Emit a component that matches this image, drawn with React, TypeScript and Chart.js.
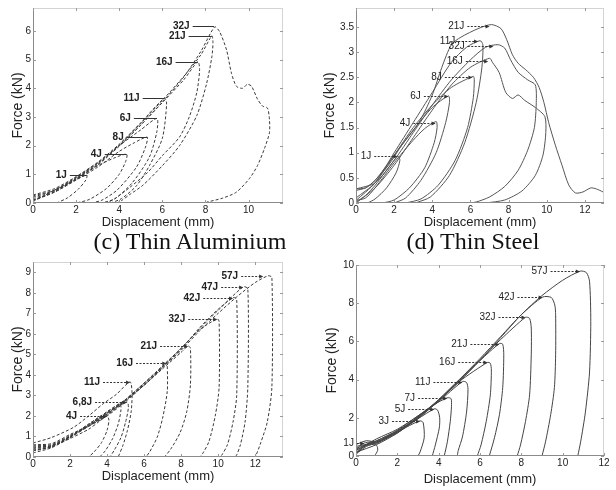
import React, { useEffect, useRef } from 'react';
import { Chart, registerables } from 'chart.js';
Chart.register(...registerables);

type Pt = [number, number];

// ---------------- (c) Thin Aluminium (top-left) ----------------
const cXTicks = [0, 2, 4, 6, 8, 10];
const cYTicks = [0, 1, 2, 3, 4, 5, 6];
const c1J: Pt[] = [[0,0.05],[0.5,0.25],[1,0.45],[1.5,0.62],[2,0.82],[2.5,0.97],[2.45,0.8],[2.1,0.48],[1.6,0.18],[1.1,0]];
const c4J: Pt[] = [[0,0.15],[0.5,0.28],[1,0.42],[2,0.85],[3,1.3],[3.8,1.58],[4.35,1.7],[4.3,1.45],[4.0,1.0],[3.4,0.5],[2.6,0.12],[2.0,0]];
const c8J: Pt[] = [[0,0.1],[1,0.38],[2,0.8],[3,1.25],[4,1.8],[4.7,2.1],[5.3,2.3],[5.22,1.95],[4.8,1.25],[3.9,0.45],[3.2,0.1],[2.7,0]];
const c6J: Pt[] = [[0,0.2],[1,0.45],[2,0.9],[3,1.4],[4,2.0],[5,2.55],[5.75,2.95],[5.75,2.5],[5.4,1.6],[4.6,0.7],[3.8,0.15],[3.2,0]];
const c11J: Pt[] = [[0,0.28],[1,0.5],[2,0.92],[3,1.42],[4,2.05],[5,2.8],[6.1,3.66],[6.2,3.45],[6.0,2.25],[5.4,1.3],[4.8,0.6],[4.1,0.15],[3.6,0]];
const c16J: Pt[] = [[0,0.1],[1,0.4],[2,0.85],[3,1.35],[4,2.0],[5,2.72],[6,3.5],[7,4.3],[7.65,4.93],[7.73,4.65],[7.6,3.85],[7.25,3.0],[6.8,2.3],[6.0,1.65],[5.3,1.05],[4.5,0.55],[3.8,0.15],[3.4,0]];
const c21J: Pt[] = [[0,0.25],[1,0.45],[2,0.88],[3,1.38],[4,2.02],[5,2.78],[6,3.58],[7,4.42],[7.8,5.18],[8.3,5.83],[8.35,5.6],[8.3,5.1],[8.05,4.15],[7.6,3.05],[6.8,2.0],[6.0,1.3],[5.1,0.62],[4.5,0.3],[4.1,0.08],[3.9,0]];
const c32J: Pt[] = [[0,0.08],[1,0.38],[2,0.82],[3,1.32],[4,1.98],[5,2.72],[6,3.52],[7,4.4],[7.8,5.3],[8.43,6.14],[8.66,5.97],[8.98,5.34],[9.21,4.52],[9.44,4.07],[9.72,4.0],[9.95,4.14],[10.14,4.07],[10.42,3.62],[10.65,3.38],[10.88,3.31],[10.97,2.93],[10.97,2.45],[10.74,1.9],[10.42,1.31],[10.05,0.86],[9.44,0.38],[8.8,0.17],[8.06,0.03]];
const cCurves = [c1J, c4J, c8J, c6J, c11J, c16J, c21J, c32J];
const cLabels = ['1J', '4J', '8J', '6J', '11J', '16J', '21J', '32J'];
const cTipX = [2.5, 4.35, 5.3, 5.75, 6.1, 7.65, 8.3, 8.4];
const cTipY = [0.97, 1.7, 2.3, 2.95, 3.66, 4.93, 5.83, 6.17];
const cTextX = [1.57, 3.19, 4.21, 4.54, 4.95, 6.48, 7.08, 7.27];

// ---------------- (d) Thin Steel (top-right) ----------------
const dXTicks = [0, 2, 4, 6, 8, 10, 12];
const dYTicks = [0, 0.5, 1, 1.5, 2, 2.5, 3, 3.5];
const d1J: Pt[] = [[0,0.02],[0.5,0.15],[1,0.35],[1.5,0.6],[2.2,0.93],[2.3,0.85],[2.1,0.6],[1.6,0.3],[1.0,0.08],[0.6,0]];
const d4J: Pt[] = [[0,0.05],[0.5,0.1],[1,0.3],[2,0.8],[3,1.25],[3.6,1.48],[4.2,1.62],[4.25,1.5],[4.1,1.2],[3.6,0.7],[2.8,0.3],[2.0,0.06],[1.4,0]];
const d6J: Pt[] = [[0,0.28],[0.5,0.3],[1,0.45],[2,0.95],[3,1.45],[4,1.9],[4.85,2.13],[4.9,2.0],[4.7,1.6],[4.2,1.0],[3.4,0.45],[2.6,0.1],[2.0,0]];
const d8J: Pt[] = [[0,0.1],[1,0.4],[2,0.95],[3,1.5],[4,1.95],[5,2.3],[6.15,2.52],[6.2,2.45],[6.15,2.1],[5.85,1.5],[5.2,0.85],[4.3,0.35],[3.4,0.08],[2.6,0]];
const d11J: Pt[] = [[0,0.05],[1,0.4],[2,1.0],[3,1.6],[4,2.2],[5,2.8],[5.8,3.1],[6.5,3.23],[6.65,3.15],[6.6,2.7],[6.3,2.0],[5.7,1.2],[4.9,0.55],[3.9,0.12],[3.1,0]];
const d16J: Pt[] = [[0,0],[1,0.3],[2,0.75],[3,1.3],[4,1.85],[5,2.35],[6,2.7],[7.0,2.88],[7.15,2.8],[7.5,2.6],[7.85,2.2],[8.2,2.08],[8.5,2.15],[8.85,2.04],[9.4,1.9],[9.9,1.72],[9.95,1.4],[9.8,0.95],[9.4,0.55],[8.7,0.24],[7.8,0.06],[6.8,0]];
const d32J: Pt[] = [[0,0.28],[1,0.4],[2,0.85],[3,1.4],[4,1.95],[5,2.45],[6,2.85],[6.8,3.1],[7.45,3.15],[7.8,3.08],[8.1,2.85],[8.5,2.6],[9.0,2.45],[9.4,2.35],[9.45,2.0],[9.35,1.5],[9.0,1.05],[8.5,0.65],[7.8,0.33],[7.0,0.12],[6.3,0.02],[5.9,0]];
const d21J: Pt[] = [[0,0.25],[0.5,0.3],[1,0.45],[1.7,0.75],[2.4,1.15],[3.3,1.6],[4.0,2.15],[4.5,2.7],[5.0,3.15],[5.5,3.3],[6.4,3.47],[7.1,3.55],[7.6,3.47],[7.9,3.25],[8.2,2.95],[8.5,2.78],[8.9,2.65],[9.3,2.5],[9.6,2.3],[9.85,2.0],[10.1,1.6],[10.45,1.15],[10.8,0.75],[11.15,0.36],[11.5,0.2],[11.9,0.22],[12.3,0.3],[12.6,0.28],[12.95,0.22]];
const dCurves = [d1J, d4J, d6J, d8J, d11J, d16J, d32J, d21J];
const dLabels = ['1J', '4J', '6J', '8J', '11J', '16J', '32J', '21J'];
const dTipX = [2.18, 4.17, 4.84, 6.1, 6.4, 6.93, 7.2, 7.0];
const dTipY = [0.93, 1.6, 2.12, 2.5, 3.23, 2.83, 3.13, 3.52];
const dTextX = [0.8, 2.85, 3.4, 4.5, 5.2, 5.6, 5.7, 5.68];

// ---------------- (e) bottom-left ----------------
const eXTicks = [0, 2, 4, 6, 8, 10, 12];
const eYTicks = [0, 1, 2, 3, 4, 5, 6, 7, 8, 9];
const e4J: Pt[] = [[0,0.3],[1,0.5],[2,0.9],[3,1.35],[3.6,1.75],[4.0,2.0],[4.1,1.8],[4.0,1.3],[3.7,0.7],[3.3,0.25],[3.0,0]];
const e6J: Pt[] = [[0,0.5],[1,0.55],[2,1.0],[3,1.6],[4,2.2],[4.7,2.6],[4.75,2.3],[4.6,1.6],[4.3,0.9],[3.9,0.3],[3.6,0]];
const e8J: Pt[] = [[0,0.2],[1,0.45],[2,0.95],[3,1.55],[4,2.15],[5.08,2.68],[5.15,2.4],[5.0,1.7],[4.75,0.95],[4.4,0.35],[4.15,0]];
const e11J: Pt[] = [[0,0.68],[1,0.95],[2.2,1.45],[3.0,2.0],[3.8,2.6],[4.5,3.05],[5.24,3.66],[5.35,3.1],[5.3,2.2],[5.1,1.3],[4.85,0.55],[4.6,0]];
const e16J: Pt[] = [[0,0.4],[1,0.55],[2,1.0],[3,1.6],[4,2.2],[5,2.8],[6,3.5],[6.6,4.0],[7.2,4.59],[7.25,4.45],[7.25,3.2],[7.0,1.9],[6.7,0.95],[6.3,0.25],[6.1,0]];
const e21J: Pt[] = [[0,0.3],[1,0.5],[2,0.95],[3,1.5],[4,2.15],[5,2.75],[6,3.5],[7,4.3],[8,5.1],[8.38,5.41],[8.5,5.3],[8.5,3.5],[8.3,2.2],[7.95,1.2],[7.45,0.4],[7.1,0]];
const e32J: Pt[] = [[0,0.35],[1,0.5],[2,1.0],[3,1.5],[4,2.1],[5,2.8],[6,3.6],[7,4.4],[8,5.3],[9,6.2],[9.95,6.73],[10.05,6.6],[10.05,3.4],[9.85,2.05],[9.5,0.75],[9.15,0.15],[9.0,0]];
const e42J: Pt[] = [[0,0.45],[1,0.55],[2,1.0],[3,1.5],[4,2.05],[5,2.75],[6,3.55],[7,4.4],[8,5.25],[9,6.3],[10,7.2],[10.8,7.76],[11.0,7.7],[11.0,3.0],[10.8,1.7],[10.5,0.6],[10.2,0.1],[10.1,0]];
const e47J: Pt[] = [[0,0.55],[1,0.6],[2,1.05],[3,1.55],[4,2.1],[5,2.8],[6,3.6],[7,4.45],[8,5.3],[9,6.25],[10,7.15],[11.35,8.29],[11.6,8.2],[11.6,3.4],[11.45,1.7],[11.2,0.6],[11.0,0.1],[10.9,0]];
const e57J: Pt[] = [[0,0.6],[1,0.65],[2,1.1],[3,1.5],[4,2.0],[5,2.7],[6,3.5],[7,4.35],[8,5.2],[9,6.15],[10,7.0],[11,7.8],[12,8.5],[12.7,8.83],[12.9,8.75],[12.9,3.4],[12.65,1.7],[12.3,0.7],[12.05,0.1],[11.95,0]];
const eCurves = [e4J, e6J, e8J, e11J, e16J, e21J, e32J, e42J, e47J, e57J];
const eLabels = ['4J', '6,8J', '11J', '16J', '21J', '32J', '42J', '47J', '57J'];
const eTipX = [4.0, 5.08, 5.24, 7.2, 8.38, 9.95, 10.8, 11.35, 12.43];
const eTipY = [2.0, 2.68, 3.66, 4.59, 5.41, 6.73, 7.76, 8.29, 8.83];
const eTextX = [2.38, 3.19, 3.62, 5.4, 6.7, 8.22, 9.03, 10.0, 11.08];

// ---------------- (f) bottom-right ----------------
const fXTicks = [0, 2, 4, 6, 8, 10, 12];
const fYTicks = [0, 2, 4, 6, 8, 10];
const f1J: Pt[] = [[0,0.3],[0.2,0.55],[0.4,0.68],[0.7,0.72],[1.0,0.55],[1.05,0.3],[0.9,0]];
const f3J: Pt[] = [[0,0.6],[0.5,0.8],[1,0.75],[2,1.25],[2.6,1.6],[3.1,1.84],[3.25,1.75],[3.3,0.95],[3.1,0.21],[3.0,0]];
const f5J: Pt[] = [[0,0.2],[0.5,0.55],[1,0.65],[2,1.3],[3,1.95],[3.79,2.47],[3.95,2.4],[4.05,2.0],[4.03,1.47],[3.84,0.58],[3.69,0]];
const f7J: Pt[] = [[0,0.4],[1,0.8],[2,1.35],[3,2.1],[3.8,2.7],[4.42,3.05],[4.6,3.0],[4.62,2.6],[4.56,1.8],[4.42,0.74],[4.27,0]];
const f11J: Pt[] = [[0,0.1],[0.5,0.6],[1,0.7],[2,1.2],[3,2.05],[4,2.85],[5.15,3.9],[5.35,3.85],[5.42,3.5],[5.35,2.3],[5.15,1.0],[4.95,0.3],[4.9,0]];
const f16J: Pt[] = [[0,0.3],[1,0.9],[2,1.4],[3,2.1],[4,2.9],[5,3.9],[6.36,4.9],[6.5,4.85],[6.55,4.5],[6.5,3.2],[6.3,1.8],[6.05,0.58],[5.87,0]];
const f21J: Pt[] = [[0,0.5],[1,0.75],[2,1.3],[3,2.05],[4,2.95],[5,4.0],[6,5.0],[6.94,5.89],[7.1,5.85],[7.15,5.3],[7.1,3.58],[6.94,2.16],[6.7,0.95],[6.45,0]];
const f32J: Pt[] = [[0,0.2],[1,0.6],[2,1.2],[3,2.0],[4,2.9],[5,3.95],[6,5.05],[7,6.1],[8.2,7.26],[8.4,7.2],[8.48,6.7],[8.48,5.3],[8.4,3.2],[8.2,1.8],[7.96,0.58],[7.8,0]];
const f42J: Pt[] = [[0,0.3],[1,0.8],[2,1.3],[3,2.0],[4,2.95],[5,4.0],[6,5.1],[7,6.25],[8,7.4],[9.03,8.32],[9.45,8.3],[9.62,7.9],[9.66,7.4],[9.66,5.3],[9.6,3.58],[9.42,2.16],[9.17,0.74],[9.0,0]];
const f57J: Pt[] = [[0,0.1],[0.5,0.5],[1,0.7],[2,1.25],[3,1.95],[4,2.9],[5,3.9],[6,5.0],[7,6.2],[8,7.4],[9,8.4],[10,9.2],[10.85,9.68],[11.15,9.6],[11.3,9.15],[11.36,7.05],[11.3,4.4],[11.1,2.3],[10.87,0.74],[10.73,0]];
const fCurves = [f1J, f3J, f5J, f7J, f11J, f16J, f21J, f32J, f42J, f57J];
const fLabels = ['1J', '3J', '5J', '7J', '11J', '16J', '21J', '32J', '42J', '57J'];
const fTipX = [0.4, 3.1, 3.79, 4.42, 5.15, 6.36, 6.94, 8.2, 9.03, 10.83];
const fTipY = [0.68, 1.84, 2.47, 3.05, 3.9, 4.9, 5.89, 7.26, 8.32, 9.68];
const fTextX = [-0.1, 1.6, 2.38, 2.86, 3.6, 4.8, 5.39, 6.75, 7.67, 9.27];

const SANS = '"Liberation Sans", Arial, Helvetica, sans-serif';

type Panel = {
  curves: Pt[][]; labels: string[]; tipX: number[]; tipY: number[]; textX: number[];
  xTicks: number[]; yTicks: number[]; xMax: number; yMax: number;
  box: { left: number; top: number; w: number; h: number };
  yAxisW: number; xAxisH: number; padTop: number; padRight: number;
  yTitlePad: number; xTitlePad: number;
  lineColor: string; lineWidth: number; dash: number[];
  labelFont: string; arrowDash: number[]; arrowHead: boolean;
};

const panels: Panel[] = [
  {
    curves: cCurves, labels: cLabels, tipX: cTipX, tipY: cTipY, textX: cTextX,
    xTicks: cXTicks, yTicks: cYTicks, xMax: 11.6, yMax: 6.8,
    box: { left: 0, top: 0, w: 300, h: 230 }, yAxisW: 33, xAxisH: 27, padTop: 6, padRight: 17,
    yTitlePad: 10, xTitlePad: 0,
    lineColor: '#3a3a3a', lineWidth: 1, dash: [3, 2],
    labelFont: `bold 10px ${SANS}`, arrowDash: [], arrowHead: false,
  },
  {
    curves: dCurves, labels: dLabels, tipX: dTipX, tipY: dTipY, textX: dTextX,
    xTicks: dXTicks, yTicks: dYTicks, xMax: 13, yMax: 3.88,
    box: { left: 300, top: 0, w: 316, h: 230 }, yAxisW: 56, xAxisH: 27, padTop: 6, padRight: 12,
    yTitlePad: 22, xTitlePad: 0,
    lineColor: '#555555', lineWidth: 1, dash: [],
    labelFont: `10px ${SANS}`, arrowDash: [2, 1.5], arrowHead: true,
  },
  {
    curves: eCurves, labels: eLabels, tipX: eTipX, tipY: eTipY, textX: eTextX,
    xTicks: eXTicks, yTicks: eYTicks, xMax: 13.5, yMax: 9.5,
    box: { left: 0, top: 250, w: 300, h: 240 }, yAxisW: 33, xAxisH: 33, padTop: 12, padRight: 17,
    yTitlePad: 10, xTitlePad: 6,
    lineColor: '#3a3a3a', lineWidth: 1, dash: [3, 2],
    labelFont: `bold 10px ${SANS}`, arrowDash: [2, 1.5], arrowHead: true,
  },
  {
    curves: fCurves, labels: fLabels, tipX: fTipX, tipY: fTipY, textX: fTextX,
    xTicks: fXTicks, yTicks: fYTicks, xMax: 12, yMax: 10,
    box: { left: 300, top: 250, w: 316, h: 240 }, yAxisW: 56, xAxisH: 34, padTop: 15, padRight: 12,
    yTitlePad: 24, xTitlePad: 3,
    lineColor: '#444444', lineWidth: 1, dash: [],
    labelFont: `10px ${SANS}`, arrowDash: [2, 1.5], arrowHead: true,
  },
];

const framePlugin = {
  id: 'matlabFrame',
  afterDraw(chart: any, _args: any, opts: any) {
    const p: Panel = opts.panel;
    const { ctx, chartArea: a } = chart;
    const xs = chart.scales.x;
    const ys = chart.scales.y;
    ctx.save();
    ctx.lineWidth = 1;
    // faint top / right box
    ctx.strokeStyle = '#d4d4d4';
    ctx.beginPath();
    ctx.moveTo(a.left, a.top + 0.5); ctx.lineTo(a.right, a.top + 0.5);
    ctx.moveTo(a.right - 0.5, a.top); ctx.lineTo(a.right - 0.5, a.bottom);
    ctx.stroke();
    // axes left / bottom
    ctx.strokeStyle = '#8a8a8a';
    ctx.beginPath();
    ctx.moveTo(a.left + 0.5, a.top); ctx.lineTo(a.left + 0.5, a.bottom);
    ctx.moveTo(a.left, a.bottom - 0.5); ctx.lineTo(a.right, a.bottom - 0.5);
    ctx.stroke();
    // inward ticks
    ctx.strokeStyle = '#9a9a9a';
    ctx.beginPath();
    for (const t of xs.ticks) {
      const px = Math.round(xs.getPixelForValue(t.value)) + 0.5;
      ctx.moveTo(px, a.bottom); ctx.lineTo(px, a.bottom - 3);
      ctx.moveTo(px, a.top); ctx.lineTo(px, a.top + 3);
    }
    for (const t of ys.ticks) {
      const py = Math.round(ys.getPixelForValue(t.value)) + 0.5;
      ctx.moveTo(a.left, py); ctx.lineTo(a.left + 3, py);
      ctx.moveTo(a.right, py); ctx.lineTo(a.right - 3, py);
    }
    ctx.stroke();
    // energy annotations
    ctx.font = p.labelFont;
    ctx.textAlign = 'right';
    ctx.textBaseline = 'middle';
    p.labels.forEach((lab, i) => {
      const tx = xs.getPixelForValue(p.tipX[i]);
      const ty = Math.round(ys.getPixelForValue(p.tipY[i])) + 0.5;
      const sx = xs.getPixelForValue(p.textX[i]);
      ctx.fillStyle = '#222';
      ctx.fillText(lab, sx, ty);
      ctx.strokeStyle = '#333';
      ctx.setLineDash(p.arrowDash);
      ctx.beginPath();
      ctx.moveTo(sx + 3, ty);
      ctx.lineTo(tx - (p.arrowHead ? 3 : 0), ty);
      ctx.stroke();
      ctx.setLineDash([]);
      if (p.arrowHead) {
        ctx.fillStyle = '#333';
        ctx.beginPath();
        ctx.moveTo(tx, ty);
        ctx.lineTo(tx - 4, ty - 2);
        ctx.lineTo(tx - 4, ty + 2);
        ctx.closePath();
        ctx.fill();
      }
    });
    ctx.restore();
  },
};

function PanelChart({ p }: { p: Panel }) {
  const ref = useRef<HTMLCanvasElement>(null);
  useEffect(() => {
    const tickFont = { family: SANS, size: 10 };
    const chart = new Chart(ref.current as HTMLCanvasElement, {
      type: 'scatter',
      data: {
        datasets: p.curves.map((c) => ({
          data: c.map(([x, y]) => ({ x, y })),
          showLine: true,
          borderColor: p.lineColor,
          borderWidth: p.lineWidth,
          borderDash: p.dash,
          pointRadius: 0,
          tension: 0.25,
          fill: false,
        })),
      },
      options: {
        animation: false,
        responsive: false,
        maintainAspectRatio: false,
        events: [],
        layout: { padding: { top: p.padTop, right: p.padRight, left: 0, bottom: 0 } },
        plugins: {
          legend: { display: false },
          tooltip: { enabled: false },
          matlabFrame: { panel: p },
        } as any,
        scales: {
          x: {
            type: 'linear', min: 0, max: p.xMax,
            afterBuildTicks: (s: any) => { s.ticks = p.xTicks.map((v) => ({ value: v })); },
            afterFit: (s: any) => { s.height = p.xAxisH; },
            grid: { display: false, drawTicks: false },
            border: { display: false },
            ticks: { padding: 1, font: tickFont, color: '#222', autoSkip: false, maxRotation: 0, callback: (v: any) => String(v) },
            title: { display: true, text: 'Displacement (mm)', color: '#222', font: { family: SANS, size: 13 }, padding: { top: 0, bottom: p.xTitlePad } },
          },
          y: {
            type: 'linear', min: 0, max: p.yMax,
            afterBuildTicks: (s: any) => { s.ticks = p.yTicks.map((v) => ({ value: v })); },
            afterFit: (s: any) => { s.width = p.yAxisW; },
            grid: { display: false, drawTicks: false },
            border: { display: false },
            ticks: { padding: 2, font: tickFont, color: '#222', autoSkip: false, callback: (v: any) => String(v) },
            title: { display: true, text: 'Force (kN)', color: '#222', font: { family: SANS, size: 14 }, padding: { top: p.yTitlePad, bottom: 0 } },
          },
        },
      } as any,
      plugins: [framePlugin as any],
    });
    return () => chart.destroy();
  }, [p]);
  return (
    <canvas
      ref={ref}
      width={p.box.w}
      height={p.box.h}
      style={{ position: 'absolute', left: p.box.left, top: p.box.top, width: p.box.w, height: p.box.h }}
    />
  );
}

const captionStyle: React.CSSProperties = {
  position: 'absolute',
  top: 229,
  fontFamily: '"Liberation Serif", "Times New Roman", serif',
  fontSize: 24,
  lineHeight: '24px',
  color: '#111',
  whiteSpace: 'nowrap',
  textAlign: 'center',
};

export default function App() {
  return (
    <div style={{ position: 'absolute', left: 0, top: 0, width: 616, height: 490, background: '#fff', overflow: 'hidden' }}>
      {panels.map((p, i) => <PanelChart key={i} p={p} />)}
      <div style={{ ...captionStyle, left: 60, width: 260 }}>(c) Thin Aluminium</div>
      <div style={{ ...captionStyle, left: 373, width: 200 }}>(d) Thin Steel</div>
    </div>
  );
}
